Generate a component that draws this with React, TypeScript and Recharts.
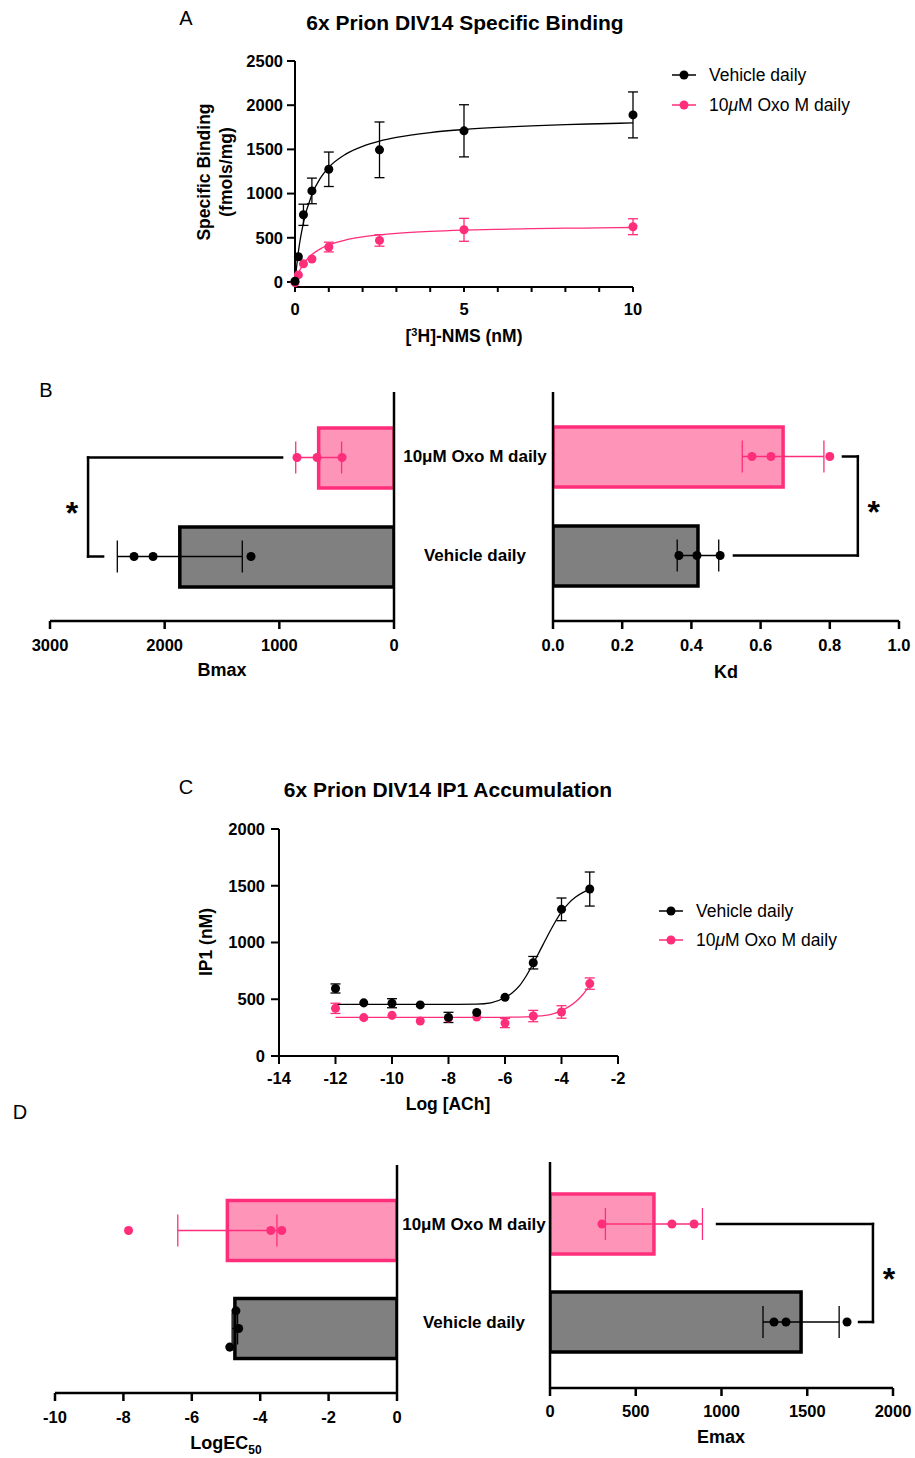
import React from 'react';
import {
  ComposedChart,
  Line,
  Scatter,
  Bar,
  Cell,
  XAxis,
  YAxis,
  ErrorBar,
  ReferenceLine,
} from 'recharts';

const PINK = '#ff2e7a';
const PINK_FILL = '#ff94b9';
const GREY = '#808080';
const FONT = '"Liberation Sans", Arial, sans-serif';

// groups (top to bottom in the bar panels)
const groups = ['10μM Oxo M daily', 'Vehicle daily'];
const groupPos = [0.5, 1.5];

// A - saturation binding
const nmsConc = [0, 0.1, 0.25, 0.5, 1, 2.5, 5, 10];
const vehBinding = [8, 285, 760, 1030, 1275, 1495, 1710, 1890];
const vehBindingSd = [0, 0, 120, 145, 195, 315, 295, 260];
const oxoBinding = [-8, 80, 205, 260, 395, 470, 590, 625];
const oxoBindingSd = [0, 0, 0, 0, 55, 65, 130, 90];
const fitConc = [0, 0.1, 0.25, 0.5, 0.75, 1, 1.5, 2, 2.5, 3, 4, 5, 6, 7, 8, 9, 10];
const vehBindingFit = [0, 342, 671, 989, 1175, 1297, 1446, 1535, 1593, 1635, 1690, 1725, 1749, 1766, 1780, 1790, 1799];
const oxoBindingFit = [0, 100, 205, 310, 375, 419, 475, 510, 533, 550, 572, 586, 596, 603, 608, 612, 616];

// B - Bmax / Kd
const bmaxOxo = [846, 671, 453];
const bmaxVeh = [2267, 2101, 1247];
const bmaxMean = [657, 1868];
const bmaxSd = [200, 545];
const bmaxBracket = [976, 2668, 2537];

const kdOxo = [0.575, 0.63, 0.8];
const kdVeh = [0.364, 0.416, 0.483];
const kdMean = [0.665, 0.419];
const kdSd = [0.118, 0.06];
const kdBracket = [0.838, 0.881, 0.523];

// C - IP1 accumulation
const logAch = [-12, -11, -10, -9, -8, -7, -6, -5, -4, -3];
const vehIp1 = [595, 468, 465, 450, 340, 383, 517, 822, 1292, 1471];
const vehIp1Sd = [40, 0, 40, 0, 45, 0, 0, 55, 100, 150];
const oxoIp1 = [420, 338, 358, 308, 335, 343, 290, 352, 388, 638];
const oxoIp1Sd = [45, 0, 0, 0, 0, 0, 40, 50, 55, 50];
const fitLog = [-12, -11, -10, -9, -8, -7, -6.5, -6, -5.75, -5.5, -5.25, -5, -4.75, -4.5, -4.25, -4, -3.75, -3.5, -3.25, -3];
const vehIp1Fit = [455, 455, 455, 455, 455, 457, 468, 515, 555, 615, 705, 815, 935, 1055, 1170, 1270, 1345, 1400, 1440, 1465];
const oxoIp1Fit = [340, 340, 340, 340, 340, 340, 340, 341, 342, 343, 345, 348, 353, 360, 375, 400, 433, 478, 540, 625];

// D - LogEC50 / Emax
const ec50Oxo = [-7.85, -3.69, -3.37];
const ec50Veh = [-4.71, -4.63, -4.89];
const ec50VehJitter = [-0.18, 0, 0.19];
const ec50Mean = [-4.96, -4.74];
const ec50Err = [1.45, 0.08];

const emaxOxo = [303, 711, 840];
const emaxVeh = [1306, 1376, 1732];
const emaxMean = [606, 1464];
const emaxSd = [283, 222];
const emaxBracket = [974, 1883, 1802];

const axisStyle = { stroke: '#000', strokeWidth: 2 };
const tickFont = { fill: '#000', fontSize: 16.5, fontWeight: 700 };

const T = ({ x, y, size = 18, bold = true, rotate = false, children }: any) => (
  <div
    style={{
      position: 'absolute',
      left: x,
      top: y,
      transform: `translate(-50%, -50%)${rotate ? ' rotate(-90deg)' : ''}`,
      fontSize: size,
      fontWeight: bold ? 700 : 400,
      whiteSpace: 'nowrap',
      lineHeight: 1.25,
      textAlign: 'center',
    }}
  >
    {children}
  </div>
);

const LegendRow = ({ x, y, color, children }: any) => (
  <div style={{ position: 'absolute', left: x, top: y - 11, height: 22, display: 'flex', alignItems: 'center', fontSize: 17.5 }}>
    <svg width={24} height={12} style={{ marginRight: 13 }}>
      <line x1={0} y1={6} x2={24} y2={6} stroke={color} strokeWidth={1.5} />
      <circle cx={12} cy={6} r={4.5} fill={color} />
    </svg>
    <span>{children}</span>
  </div>
);

const CatTick = ({ x, y, payload, shift, dy }: any) => (
  <text x={x + shift} y={y + dy} textAnchor="middle" dominantBaseline="central" fontSize={17} fontWeight={700} fill="#000">
    {payload.value}
  </text>
);

const starLabel = (side: 'left' | 'right') => (lp: any) => {
  const vb = lp.viewBox || {};
  const cx = (vb.x ?? 0) + (vb.width ?? 0) / 2 + (side === 'left' ? -16 : 16);
  const cy = (vb.y ?? 0) + (vb.height ?? 0) / 2;
  return (
    <text x={cx} y={cy + 17} textAnchor="middle" fontSize={32} fontWeight={700} fill="#000">
      *
    </text>
  );
};

const noShape = () => <g />;

type HBarProps = {
  box: { left: number; top: number; width: number; height: number };
  margin: { top: number; right: number; bottom: number; left: number };
  domain: [number, number];
  ticks: number[];
  fmt?: (v: number) => string;
  reversed?: boolean;
  means: number[];
  errs: number[];
  oxoVals: number[];
  vehVals: number[];
  vehJitter?: number[];
  pad: { top: number; bottom: number };
  catSide: 'left' | 'right';
  catWidth: number;
  labelShift?: number;
  labelDy?: number;
  bracket?: number[];
  starSide?: 'left' | 'right';
  tickGap: number;
};

const HBarPanel = (p: HBarProps) => {
  const barData = groups.map((g, i) => ({ group: g, mean: p.means[i] }));
  const meanPts = groups.map((g, i) => ({ val: p.means[i], pos: groupPos[i], err: p.errs[i] }));
  const oxoPts = p.oxoVals.map((v) => ({ val: v, pos: groupPos[0] }));
  const vehPts = p.vehVals.map((v, i) => ({ val: v, pos: groupPos[1] + (p.vehJitter ? p.vehJitter[i] : 0) }));
  const b = p.bracket;
  const lineProps = { yAxisId: 'pos', stroke: '#000', strokeWidth: 2.5, ifOverflow: 'visible' as const, strokeLinecap: 'square' as const };
  return (
    <div style={{ position: 'absolute', left: p.box.left, top: p.box.top }}>
      <ComposedChart layout="vertical" width={p.box.width} height={p.box.height} data={barData} margin={p.margin}>
        <XAxis
          type="number"
          domain={p.domain}
          ticks={p.ticks}
          interval={0}
          reversed={p.reversed}
          tickFormatter={p.fmt}
          height={30}
          allowDataOverflow
          axisLine={{ stroke: '#000', strokeWidth: 2.5 }}
          tickLine={{ stroke: '#000', strokeWidth: 2.5 }}
          tickSize={8}
          tickMargin={p.tickGap - 8}
          tick={tickFont}
        />
        <YAxis
          yAxisId="cat"
          type="category"
          dataKey="group"
          orientation={p.catSide}
          width={p.catWidth}
          padding={p.pad}
          axisLine={{ stroke: '#000', strokeWidth: 2.5 }}
          tickLine={false}
          tickSize={0}
          tickMargin={0}
          tick={p.labelShift !== undefined ? (t: any) => <CatTick {...t} shift={p.labelShift} dy={p.labelDy || 0} /> : false}
        />
        <YAxis yAxisId="pos" type="number" dataKey="pos" domain={[0, 2]} padding={p.pad} hide allowDataOverflow />
        <Bar yAxisId="cat" dataKey="mean" barSize={60} strokeWidth={3.5} isAnimationActive={false}>
          <Cell fill={PINK_FILL} stroke={PINK} />
          <Cell fill={GREY} stroke="#000" />
        </Bar>
        <Scatter yAxisId="pos" data={[meanPts[0]]} dataKey="val" shape={noShape} isAnimationActive={false}>
          <ErrorBar dataKey="err" direction="x" width={16} stroke={PINK} strokeWidth={1.3} />
        </Scatter>
        <Scatter yAxisId="pos" data={[meanPts[1]]} dataKey="val" shape={noShape} isAnimationActive={false}>
          <ErrorBar dataKey="err" direction="x" width={16} stroke="#000" strokeWidth={1.3} />
        </Scatter>
        <Scatter yAxisId="pos" data={oxoPts} dataKey="val" fill={PINK} isAnimationActive={false} />
        <Scatter yAxisId="pos" data={vehPts} dataKey="val" fill="#000" isAnimationActive={false} />
        {b && <ReferenceLine {...lineProps} segment={[{ x: b[0], y: groupPos[0] }, { x: b[1], y: groupPos[0] }]} />}
        {b && (
          <ReferenceLine
            {...lineProps}
            segment={[{ x: b[1], y: groupPos[0] }, { x: b[1], y: groupPos[1] }]}
            label={starLabel(p.starSide || 'left')}
          />
        )}
        {b && <ReferenceLine {...lineProps} segment={[{ x: b[1], y: groupPos[1] }, { x: b[2], y: groupPos[1] }]} />}
      </ComposedChart>
    </div>
  );
};

const bindingPanel = () => {
  const veh = nmsConc.map((x, i) => ({ x, y: vehBinding[i], err: vehBindingSd[i] }));
  const oxo = nmsConc.map((x, i) => ({ x, y: oxoBinding[i], err: oxoBindingSd[i] }));
  const vehFit = fitConc.map((x, i) => ({ x, y: vehBindingFit[i] }));
  const oxoFit = fitConc.map((x, i) => ({ x, y: oxoBindingFit[i] }));
  return (
    <div style={{ position: 'absolute', left: 180, top: 40 }}>
      <ComposedChart width={480} height={320} margin={{ top: 21, right: 27, bottom: 43, left: 55 }}>
        <XAxis
          type="number"
          dataKey="x"
          domain={[0, 10]}
          ticks={[0, 1, 2, 3, 4, 5, 6, 7, 8, 9, 10]}
          interval={0}
          tickFormatter={(v: number) => (v % 5 === 0 ? String(v) : '')}
          height={30}
          axisLine={axisStyle}
          tickLine={axisStyle}
          tickSize={5}
          tickMargin={11}
          tick={tickFont}
        />
        <YAxis
          type="number"
          domain={[-57, 2500]}
          ticks={[0, 500, 1000, 1500, 2000, 2500]}
          interval={0}
          width={60}
          allowDataOverflow
          axisLine={axisStyle}
          tickLine={axisStyle}
          tickSize={8}
          tickMargin={4}
          tick={tickFont}
        />
        <Line data={vehFit} dataKey="y" type="monotone" stroke="#000" strokeWidth={1.3} dot={false} isAnimationActive={false} />
        <Line data={oxoFit} dataKey="y" type="monotone" stroke={PINK} strokeWidth={1.3} dot={false} isAnimationActive={false} />
        <Scatter data={oxo} dataKey="y" fill={PINK} isAnimationActive={false}>
          <ErrorBar dataKey="err" direction="y" width={5} stroke={PINK} strokeWidth={1.3} />
        </Scatter>
        <Scatter data={veh} dataKey="y" fill="#000" isAnimationActive={false}>
          <ErrorBar dataKey="err" direction="y" width={5} stroke="#000" strokeWidth={1.3} />
        </Scatter>
      </ComposedChart>
    </div>
  );
};

const ip1Panel = () => {
  const veh = logAch.map((x, i) => ({ x, y: vehIp1[i], err: vehIp1Sd[i] }));
  const oxo = logAch.map((x, i) => ({ x, y: oxoIp1[i], err: oxoIp1Sd[i] }));
  const vehFit = fitLog.map((x, i) => ({ x, y: vehIp1Fit[i] }));
  const oxoFit = fitLog.map((x, i) => ({ x, y: oxoIp1Fit[i] }));
  return (
    <div style={{ position: 'absolute', left: 190, top: 815 }}>
      <ComposedChart width={450} height={300} margin={{ top: 14, right: 22, bottom: 29, left: 29 }}>
        <XAxis
          type="number"
          dataKey="x"
          domain={[-14, -2]}
          ticks={[-14, -12, -10, -8, -6, -4, -2]}
          interval={0}
          height={30}
          axisLine={axisStyle}
          tickLine={axisStyle}
          tickSize={8}
          tickMargin={8}
          tick={tickFont}
        />
        <YAxis
          type="number"
          domain={[0, 2000]}
          ticks={[0, 500, 1000, 1500, 2000]}
          interval={0}
          width={60}
          axisLine={axisStyle}
          tickLine={axisStyle}
          tickSize={8}
          tickMargin={6}
          tick={tickFont}
        />
        <Line data={vehFit} dataKey="y" type="monotone" stroke="#000" strokeWidth={1.3} dot={false} isAnimationActive={false} />
        <Line data={oxoFit} dataKey="y" type="monotone" stroke={PINK} strokeWidth={1.3} dot={false} isAnimationActive={false} />
        <Scatter data={oxo} dataKey="y" fill={PINK} isAnimationActive={false}>
          <ErrorBar dataKey="err" direction="y" width={5} stroke={PINK} strokeWidth={1.3} />
        </Scatter>
        <Scatter data={veh} dataKey="y" fill="#000" isAnimationActive={false}>
          <ErrorBar dataKey="err" direction="y" width={5} stroke="#000" strokeWidth={1.3} />
        </Scatter>
      </ComposedChart>
    </div>
  );
};

export default function App() {
  return (
    <div
      style={{
        position: 'absolute',
        left: 0,
        top: 0,
        width: 915,
        height: 1458,
        overflow: 'hidden',
        background: '#fff',
        fontFamily: FONT,
        color: '#000',
      }}
    >
      {/* A */}
      <T x={186} y={18} size={20} bold={false}>A</T>
      <T x={465} y={23} size={21}>6x Prion DIV14 Specific Binding</T>
      {bindingPanel()}
      <T x={216} y={172} size={17.5} rotate>
        Specific Binding
        <br />
        (fmols/mg)
      </T>
      <T x={464} y={337} size={17.5}>
        [<sup style={{ fontSize: 11 }}>3</sup>H]-NMS (nM)
      </T>
      <LegendRow x={672} y={75} color="#000">Vehicle daily</LegendRow>
      <LegendRow x={672} y={105} color={PINK}>
        10<i>μ</i>M Oxo M daily
      </LegendRow>

      {/* B */}
      <T x={46} y={390} size={20} bold={false}>B</T>
      <HBarPanel
        box={{ left: 30, top: 380, width: 525, height: 320 }}
        margin={{ top: 12, right: 6, bottom: 49, left: 20 }}
        domain={[0, 3000]}
        ticks={[0, 1000, 2000, 3000]}
        reversed
        means={bmaxMean}
        errs={bmaxSd}
        oxoVals={bmaxOxo}
        vehVals={bmaxVeh}
        pad={{ top: 16, bottom: 15 }}
        catSide="right"
        catWidth={155}
        labelShift={81}
        labelDy={-1}
        bracket={bmaxBracket}
        starSide="left"
        tickGap={18}
      />
      <HBarPanel
        box={{ left: 540, top: 380, width: 375, height: 320 }}
        margin={{ top: 12, right: 16, bottom: 49, left: 12 }}
        domain={[0, 1]}
        ticks={[0, 0.2, 0.4, 0.6, 0.8, 1]}
        fmt={(v: number) => v.toFixed(1)}
        means={kdMean}
        errs={kdSd}
        oxoVals={kdOxo}
        vehVals={kdVeh}
        pad={{ top: 15, bottom: 16 }}
        catSide="left"
        catWidth={1}
        bracket={kdBracket}
        starSide="right"
        tickGap={18}
      />
      <T x={222} y={670}>Bmax</T>
      <T x={726} y={672}>Kd</T>

      {/* C */}
      <T x={186} y={787} size={20} bold={false}>C</T>
      <T x={448} y={790} size={21}>6x Prion DIV14 IP1 Accumulation</T>
      {ip1Panel()}
      <T x={207} y={942} size={17.5} rotate>IP1 (nM)</T>
      <T x={448} y={1105} size={17.5}>Log [ACh]</T>
      <LegendRow x={659} y={911} color="#000">Vehicle daily</LegendRow>
      <LegendRow x={659} y={940} color={PINK}>
        10<i>μ</i>M Oxo M daily
      </LegendRow>

      {/* D */}
      <T x={20} y={1112} size={20} bold={false}>D</T>
      <HBarPanel
        box={{ left: 10, top: 1150, width: 545, height: 300 }}
        margin={{ top: 15, right: 3, bottom: 27, left: 45 }}
        domain={[-10, 0]}
        ticks={[-10, -8, -6, -4, -2, 0]}
        means={ec50Mean}
        errs={ec50Err}
        oxoVals={ec50Oxo}
        vehVals={ec50Veh}
        vehJitter={ec50VehJitter}
        pad={{ top: 16.5, bottom: 15.5 }}
        catSide="right"
        catWidth={155}
        labelShift={77}
        labelDy={-6}
        tickGap={18}
      />
      <HBarPanel
        box={{ left: 537, top: 1150, width: 378, height: 300 }}
        margin={{ top: 12, right: 22, bottom: 32, left: 12 }}
        domain={[0, 2000]}
        ticks={[0, 500, 1000, 1500, 2000]}
        means={emaxMean}
        errs={emaxSd}
        oxoVals={emaxOxo}
        vehVals={emaxVeh}
        pad={{ top: 13, bottom: 17 }}
        catSide="left"
        catWidth={1}
        bracket={emaxBracket}
        starSide="right"
        tickGap={17}
      />
      <T x={226} y={1445}>
        LogEC<sub style={{ fontSize: 12 }}>50</sub>
      </T>
      <T x={721} y={1437}>Emax</T>
    </div>
  );
}
